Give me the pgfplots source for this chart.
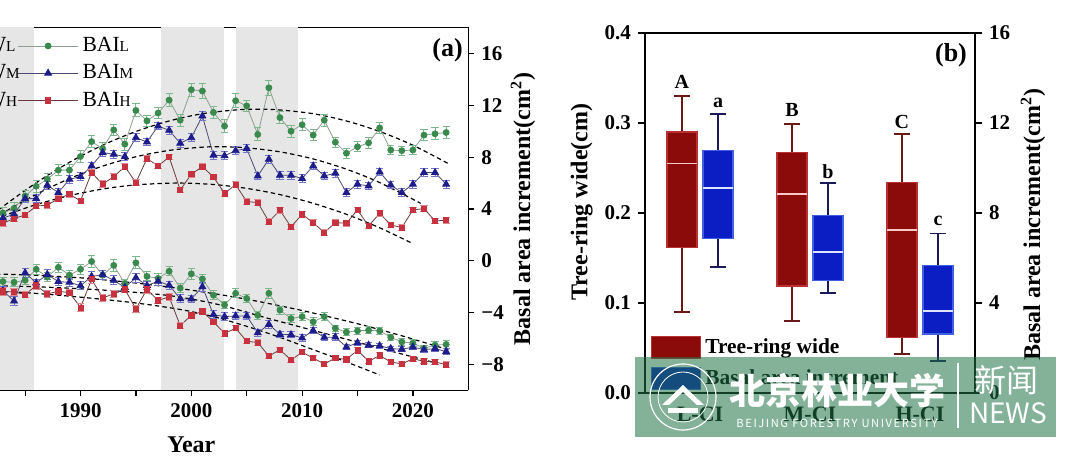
\documentclass[border=0pt]{standalone}
\usepackage{fontspec}
\setmainfont{Liberation Serif}
\newfontfamily\cjk{Noto Sans CJK SC}
\newfontfamily\cjkwide[LetterSpace=14]{Noto Sans CJK SC}
\usepackage{pgfplots}
\pgfplotsset{compat=1.18}
\usepackage{pgfplotstable}
\usepgfplotslibrary{statistics}

\definecolor{gL}{HTML}{3A8A4E}
\definecolor{gLe}{HTML}{7DB88C}
\definecolor{lineL}{HTML}{8AA090}
\definecolor{bM}{HTML}{1C1C8C}
\definecolor{bMe}{HTML}{7474C8}
\definecolor{lineM}{HTML}{4A4A70}
\definecolor{rH}{HTML}{C8323F}
\definecolor{rHe}{HTML}{E0888F}
\definecolor{lineH}{HTML}{6A3A3A}
\definecolor{band}{HTML}{E6E6E6}
\definecolor{redF}{HTML}{8B0B0B}
\definecolor{redE}{HTML}{B83030}
\definecolor{redW}{HTML}{6A1818}
\definecolor{redM}{HTML}{F6C8C8}
\definecolor{blueF}{HTML}{0A1EC4}
\definecolor{blueE}{HTML}{4060E0}
\definecolor{blueW}{HTML}{1A1A5A}
\definecolor{blueM}{HTML}{DDE3FF}
\definecolor{wm}{HTML}{1E7346}

\newcommand\tl{\bfseries\fontsize{10.5}{12}\selectfont}
\newcommand\lbl{\bfseries\fontsize{12}{14}\selectfont}
\newcommand\sub[1]{{\fontsize{7.6}{8}\selectfont #1}}

\pgfplotstableread{
x y e
1983 3.70 0.45
1984 4.05 0.45
1985 5.00 0.45
1986 5.75 0.45
1987 6.30 0.45
1988 7.00 0.45
1989 7.00 0.45
1990 8.05 0.45
1991 9.20 0.45
1992 8.65 0.45
1993 10.10 0.45
1994 9.00 0.45
1995 11.60 0.50
1996 10.80 0.45
1997 11.40 0.45
1998 12.40 0.50
1999 10.85 0.45
2000 13.20 0.50
2001 13.10 0.55
2002 11.45 0.45
2003 10.40 0.50
2004 12.35 0.55
2005 11.95 0.45
2006 9.75 0.50
2007 13.35 0.60
2008 11.05 0.45
2009 10.00 0.45
2010 10.50 0.45
2011 9.70 0.45
2012 10.85 0.45
2013 9.15 0.40
2014 8.30 0.40
2015 8.80 0.40
2016 9.10 0.40
2017 10.25 0.45
2018 8.55 0.35
2019 8.50 0.35
2020 8.55 0.35
2021 9.70 0.45
2022 9.80 0.45
2023 9.90 0.45
}\BAIL

\pgfplotstableread{
x y e
1983 3.30 0.30
1984 3.60 0.30
1985 4.80 0.30
1986 4.80 0.30
1987 5.83 0.30
1988 5.27 0.30
1989 6.29 0.30
1990 6.50 0.30
1991 7.32 0.30
1992 8.35 0.30
1993 8.22 0.30
1994 8.04 0.30
1995 9.50 0.30
1996 9.17 0.30
1997 10.40 0.30
1998 10.07 0.30
1999 9.07 0.30
2000 9.50 0.30
2001 11.17 0.35
2002 8.15 0.30
2003 8.10 0.30
2004 8.50 0.30
2005 8.66 0.30
2006 6.55 0.30
2007 7.84 0.30
2008 6.60 0.30
2009 6.60 0.30
2010 6.35 0.30
2011 7.32 0.30
2012 6.55 0.30
2013 6.76 0.30
2014 5.27 0.30
2015 5.91 0.30
2016 5.78 0.30
2017 6.86 0.30
2018 5.85 0.30
2019 5.27 0.30
2020 5.91 0.30
2021 6.81 0.30
2022 6.81 0.30
2023 5.91 0.30
}\BAIM

\pgfplotstableread{
x y e
1983 2.90 0.22
1984 3.26 0.22
1985 3.54 0.22
1986 4.23 0.22
1987 4.29 0.22
1988 4.80 0.22
1989 5.14 0.22
1990 4.62 0.22
1991 6.81 0.25
1992 5.91 0.25
1993 6.50 0.25
1994 7.27 0.25
1995 6.04 0.22
1996 7.89 0.25
1997 7.32 0.22
1998 8.01 0.22
1999 5.47 0.22
2000 6.68 0.25
2001 7.27 0.25
2002 6.47 0.22
2003 5.21 0.22
2004 5.88 0.22
2005 4.57 0.22
2006 4.50 0.22
2007 3.03 0.22
2008 3.90 0.22
2009 2.62 0.22
2010 3.59 0.22
2011 2.95 0.22
2012 2.18 0.22
2013 2.95 0.22
2014 2.90 0.22
2015 3.93 0.22
2016 2.69 0.22
2017 3.67 0.22
2018 2.77 0.22
2019 2.57 0.22
2020 3.93 0.22
2021 4.03 0.22
2022 3.08 0.22
2023 3.13 0.22
}\BAIH

\pgfplotstableread{
x y e
1983 -1.60 0.35
1984 -1.65 0.35
1985 -1.50 0.35
1986 -0.65 0.40
1987 -1.25 0.35
1988 -0.50 0.40
1989 -1.10 0.35
1990 -0.65 0.40
1991 -0.05 0.45
1992 -1.10 0.35
1993 -0.35 0.45
1994 -1.75 0.35
1995 -0.15 0.45
1996 -1.20 0.35
1997 -1.35 0.35
1998 -0.80 0.35
1999 -2.10 0.35
2000 -1.00 0.40
2001 -1.40 0.35
2002 -2.65 0.35
2003 -3.40 0.30
2004 -2.50 0.35
2005 -2.90 0.30
2006 -4.20 0.30
2007 -2.50 0.40
2008 -3.80 0.30
2009 -4.45 0.30
2010 -4.30 0.30
2011 -4.70 0.30
2012 -4.30 0.30
2013 -5.20 0.25
2014 -5.50 0.25
2015 -5.40 0.25
2016 -5.35 0.25
2017 -5.40 0.25
2018 -5.90 0.25
2019 -6.25 0.25
2020 -6.35 0.25
2021 -6.75 0.25
2022 -6.50 0.30
2023 -6.45 0.30
}\WL

\pgfplotstableread{
x y e
1983 -2.30 0.35
1984 -3.10 0.35
1985 -0.92 0.35
1986 -1.70 0.30
1987 -1.05 0.35
1988 -1.60 0.30
1989 -1.65 0.30
1990 -1.92 0.30
1991 -1.20 0.35
1992 -1.07 0.35
1993 -1.50 0.35
1994 -2.05 0.30
1995 -1.30 0.35
1996 -1.90 0.30
1997 -1.58 0.30
1998 -1.88 0.30
1999 -2.93 0.30
2000 -2.95 0.30
2001 -2.00 0.35
2002 -4.15 0.30
2003 -4.30 0.30
2004 -4.25 0.30
2005 -4.25 0.30
2006 -5.55 0.25
2007 -4.90 0.30
2008 -5.67 0.25
2009 -5.70 0.25
2010 -5.95 0.25
2011 -5.38 0.25
2012 -5.90 0.25
2013 -5.88 0.25
2014 -6.65 0.20
2015 -6.32 0.20
2016 -6.50 0.20
2017 -6.55 0.20
2018 -6.77 0.20
2019 -6.82 0.20
2020 -6.65 0.20
2021 -6.85 0.20
2022 -6.77 0.25
2023 -7.00 0.25
}\WM

\pgfplotstableread{
x y e
1983 -2.35 0.30
1984 -2.40 0.30
1985 -2.60 0.25
1986 -1.90 0.30
1987 -2.55 0.25
1988 -2.35 0.25
1989 -2.45 0.25
1990 -3.60 0.30
1991 -1.42 0.30
1992 -2.85 0.25
1993 -2.55 0.30
1994 -2.20 0.25
1995 -3.70 0.25
1996 -2.20 0.30
1997 -3.05 0.25
1998 -2.78 0.25
1999 -5.00 0.25
2000 -4.20 0.25
2001 -3.90 0.25
2002 -4.70 0.20
2003 -5.60 0.20
2004 -5.20 0.20
2005 -6.20 0.20
2006 -6.30 0.20
2007 -7.35 0.20
2008 -6.85 0.20
2009 -7.65 0.20
2010 -7.05 0.20
2011 -7.50 0.20
2012 -7.95 0.20
2013 -7.50 0.20
2014 -7.60 0.20
2015 -6.90 0.20
2016 -7.75 0.20
2017 -7.30 0.20
2018 -7.80 0.20
2019 -7.95 0.20
2020 -7.55 0.20
2021 -7.75 0.20
2022 -7.80 0.20
2023 -8.00 0.20
}\WH

\pgfplotsset{
  sL/.style={color=lineL, line width=0.4pt, mark=*, mark size=1.5pt, mark options={fill=gL, draw=gL, solid}},
  sM/.style={color=lineM, line width=0.4pt, mark=triangle*, mark size=2pt, mark options={fill=bM, draw=bM, solid}},
  sH/.style={color=lineH, line width=0.4pt, mark=square*, mark size=1.3pt, mark options={fill=rH, draw=rH, solid}},
  ebar/.style={error bars/.cd, y dir=both, y explicit,
     error bar style={#1, line width=0.5pt, solid},
     error mark options={rotate=90, #1, mark size=1.8pt, line width=0.5pt}},
  fit/.style={black, line width=0.6pt, dash pattern=on 2.2pt off 1.6pt, smooth, forget plot},
  redbox/.style={forget plot, boxplot/draw direction=y,
     boxplot/every box/.style={draw=redE, fill=redF, line width=0.6pt},
     boxplot/every whisker/.style={draw=redW, line width=0.8pt},
     boxplot/every median/.style={draw=redM, line width=0.9pt}},
  bluebox/.style={forget plot, boxplot/draw direction=y,
     boxplot/every box/.style={draw=blueE, fill=blueF, line width=0.6pt},
     boxplot/every whisker/.style={draw=blueW, line width=0.8pt},
     boxplot/every median/.style={draw=blueM, line width=0.9pt}},
}

\begin{document}
\begin{tikzpicture}
\begin{scope}
\clip (0pt,0pt) rectangle (541.5pt,230.5pt);

% ---------------- panel (a) ----------------
\begin{axis}[
  at={(234.15pt,216.75pt)}, anchor=north east,
  scale only axis, width=277pt, height=181.5pt,
  xmin=1975, xmax=2025, ymin=-10, ymax=18,
  axis y line*=right,
  axis line style={line width=0.6pt},
  xtick={1990,2000,2010,2020}, xticklabels={1990,2000,2010,2020},
  minor xtick={1985,1995,2005,2015},
  ytick={-8,-4,0,4,8,12,16}, yticklabels={−8,−4,0,4,8,12,16},
  xtick pos=left, ytick pos=right,
  tick align=outside, major tick length=3pt, minor tick length=3pt,
  tick style={line width=0.6pt, black},
  ticklabel style={font=\tl},
  xlabel={Year}, ylabel={Basal area increment(cm\textsuperscript{2})},
  label style={font=\lbl},
  xlabel style={at={(axis description cs:0.5,-0.149)}, anchor=center},
  ylabel style={at={(axis description cs:1.0987,0.5)}, anchor=center},
  legend columns=2,
  legend cell align=left,
  legend style={draw=none, fill=none, at={(axis description cs:0.4031,0.985)},
    anchor=north east, font=\fontsize{10.8}{12}\selectfont, inner sep=0pt,
    row sep=1pt, /tikz/every even column/.append style={column sep=-3pt}},
  legend image code/.code={\draw[mark repeat=2,mark phase=2,#1] plot coordinates {(0pt,0pt) (15pt,0pt) (30pt,0pt)};},
]
\addlegendimage{sL}\addlegendentry{W\sub{L}}
\addlegendimage{sL}\addlegendentry{BAI\sub{L}}
\addlegendimage{sM}\addlegendentry{W\sub{M}}
\addlegendimage{sM}\addlegendentry{BAI\sub{M}}
\addlegendimage{sH}\addlegendentry{W\sub{H}}
\addlegendimage{sH}\addlegendentry{BAI\sub{H}}

\addplot[fill=band, draw=none, forget plot] coordinates {(1975,-10) (1985.8,-10) (1985.8,18) (1975,18)} -- cycle;
\addplot[fill=band, draw=none, forget plot] coordinates {(1997.25,-10) (2002.95,-10) (2002.95,18) (1997.25,18)} -- cycle;
\addplot[fill=band, draw=none, forget plot] coordinates {(2004.0,-10) (2009.65,-10) (2009.65,18) (2004.0,18)} -- cycle;

% fitted curves (BAI)
\addplot[fit] coordinates {(1981,2.8) (1983,4.19) (1986,6.02) (1989,7.6) (1992,8.92) (1995,9.98) (1998,10.79) (2001,11.35) (2004,11.64) (2006,11.7) (2008,11.64) (2011,11.35) (2014,10.79) (2017,9.98) (2020,8.92) (2023.2,7.5)};
\addplot[fit] coordinates {(1981,2.59) (1983,3.69) (1986,5.13) (1989,6.34) (1992,7.31) (1995,8.03) (1998,8.52) (2001,8.77) (2003,8.8) (2005,8.72) (2008,8.41) (2011,7.86) (2014,7.07) (2017,6.04) (2020.7,4.44)};
\addplot[fit] coordinates {(1981,2.78) (1983,3.46) (1986,4.34) (1989,5.03) (1992,5.54) (1995,5.86) (1998.7,6.0) (2002,5.89) (2005,5.59) (2008,5.11) (2011,4.44) (2014,3.59) (2017,2.55) (2020,1.33)};
% fitted curves (W)
\addplot[fit] coordinates {(1981,-1.0) (1985,-1.08) (1990,-1.31) (1995,-1.71) (2000,-2.26) (2005,-2.96) (2010,-3.83) (2015,-4.85) (2019,-5.78) (2023.2,-6.86)};
\addplot[fit] coordinates {(1981,-1.9) (1986,-2.0) (1991,-2.2) (1996,-2.5) (1999,-2.8) (2002.6,-3.4) (2007,-4.45) (2011.6,-5.5) (2016,-6.5) (2020.6,-7.55) (2022,-7.85)};
\addplot[fit] coordinates {(1981,-2.3) (1985,-2.45) (1990,-2.8) (1995,-3.25) (1999,-3.75) (2002,-4.3) (2005,-5.05) (2008,-5.9) (2011,-6.85) (2014,-7.8) (2017,-8.8)};

\addplot[sL, forget plot, ebar=gLe] table[x=x, y=y, y error=e] {\WL};
\addplot[sM, forget plot, ebar=bMe] table[x=x, y=y, y error=e] {\WM};
\addplot[sH, forget plot, ebar=rHe] table[x=x, y=y, y error=e] {\WH};
\addplot[sL, forget plot, ebar=gLe] table[x=x, y=y, y error=e] {\BAIL};
\addplot[sM, forget plot, ebar=bMe] table[x=x, y=y, y error=e] {\BAIM};
\addplot[sH, forget plot, ebar=rHe] table[x=x, y=y, y error=e] {\BAIH};
\end{axis}
\node[font=\bfseries\fontsize{13}{14}\selectfont] at (223.75pt,205.5pt) {(a)};

% ---------------- panel (b) ----------------
\begin{axis}[
  at={(322.5pt,34pt)}, anchor=south west,
  scale only axis, width=165pt, height=180pt,
  xmin=0.5, xmax=3.5, ymin=0, ymax=0.4,
  axis y line*=left,
  axis line style={line width=0.6pt},
  xtick={1,2,3}, xticklabels={L-CI,M-CI,H-CI},
  major x tick style={draw=none},
  ytick={0,0.1,0.2,0.3,0.4}, yticklabels={0.0,0.1,0.2,0.3,0.4},
  ytick pos=left, tick align=outside, major tick length=3.5pt,
  tick style={line width=0.6pt, black},
  ticklabel style={font=\tl},
  xticklabel style={font=\bfseries\fontsize{11}{12}\selectfont},
  ylabel={Tree-ring wide(cm)},
  ylabel style={font=\lbl, at={(axis description cs:-0.1918,0.53)}, anchor=center},
  legend cell align=left,
  legend style={draw=none, fill=none, at={(axis description cs:0.018,0.164)}, anchor=north west,
    font=\bfseries\fontsize{10.7}{12}\selectfont, inner sep=0pt, row sep=2.5pt},
  legend image code/.code={\draw[#1] (0pt,-5.5pt) rectangle (24.5pt,5.5pt);},
]
\addlegendimage{draw=redE, fill=redF, line width=0.5pt}
\addlegendentry{Tree-ring wide}
\addlegendimage{draw=blueE, fill=blueF, line width=0.5pt}
\addlegendentry{Basal area increment}

\addplot[redbox, boxplot prepared={draw position=0.836, lower whisker=0.0897, lower quartile=0.162, median=0.255, upper quartile=0.290, upper whisker=0.330, box extend=0.273, whisker extend=0.15}] coordinates {};
\addplot[redbox, boxplot prepared={draw position=1.836, lower whisker=0.080, lower quartile=0.119, median=0.2215, upper quartile=0.267, upper whisker=0.299, box extend=0.273, whisker extend=0.15}] coordinates {};
\addplot[redbox, boxplot prepared={draw position=2.836, lower whisker=0.0433, lower quartile=0.0615, median=0.181, upper quartile=0.234, upper whisker=0.288, box extend=0.273, whisker extend=0.15}] coordinates {};

\node[font=\bfseries\fontsize{10}{11}\selectfont] at (axis cs:0.836,0.346) {A};
\node[font=\bfseries\fontsize{10}{11}\selectfont] at (axis cs:1.164,0.322) {a};
\node[font=\bfseries\fontsize{10}{11}\selectfont] at (axis cs:1.836,0.314) {B};
\node[font=\bfseries\fontsize{10}{11}\selectfont] at (axis cs:2.164,0.2456) {b};
\node[font=\bfseries\fontsize{10}{11}\selectfont] at (axis cs:2.836,0.301) {C};
\node[font=\bfseries\fontsize{10}{11}\selectfont] at (axis cs:3.164,0.191) {c};
\end{axis}

\begin{axis}[
  at={(322.5pt,34pt)}, anchor=south west,
  scale only axis, width=165pt, height=180pt,
  xmin=0.5, xmax=3.5, ymin=0, ymax=16,
  axis y line*=right, axis x line=none,
  axis line style={line width=0.6pt},
  ytick={0,4,8,12,16}, yticklabels={0,4,8,12,16},
  ytick pos=right, tick align=outside, major tick length=3.5pt,
  tick style={line width=0.6pt, black},
  ticklabel style={font=\tl},
  ylabel={Basal area increment(cm\textsuperscript{2})},
  ylabel style={font=\lbl, at={(axis description cs:1.1758,0.467)}, anchor=center},
]
\addplot[bluebox, boxplot prepared={draw position=1.164, lower whisker=5.6, lower quartile=6.86, median=9.12, upper quartile=10.76, upper whisker=12.4, box extend=0.273, whisker extend=0.15}] coordinates {};
\addplot[bluebox, boxplot prepared={draw position=2.164, lower whisker=4.44, lower quartile=5.0, median=6.28, upper quartile=7.88, upper whisker=9.32, box extend=0.273, whisker extend=0.15}] coordinates {};
\addplot[bluebox, boxplot prepared={draw position=3.164, lower whisker=1.42, lower quartile=2.62, median=3.66, upper quartile=5.66, upper whisker=7.08, box extend=0.273, whisker extend=0.15}] coordinates {};
\end{axis}
\node[font=\bfseries\fontsize{13}{14}\selectfont] at (475.5pt,203pt) {(b)};

% ---------------- watermark overlay ----------------
\fill[wm, opacity=0.55] (317.5pt,12pt) rectangle (528pt,52pt);
\draw[white, line width=0.6pt] (341.5pt,32pt) circle (16.5pt);
\draw[white, line width=0.4pt] (341.5pt,32pt) circle (12.5pt);
\fill[white] (331pt,28pt) -- (341.5pt,38pt) -- (352pt,28pt) -- (348.5pt,28pt) -- (341.5pt,34.5pt) -- (334.5pt,28pt) -- cycle;
\fill[white] (334pt,24pt) rectangle (349pt,26.5pt);
\node[white, font=\cjk\bfseries\fontsize{18}{18}\selectfont] at (418.5pt,35pt) {北京林业大学};
\node[white, font=\cjkwide\fontsize{5.6}{6}\selectfont] at (418.5pt,19pt) {BEIJING FORESTRY UNIVERSITY};
\draw[white, line width=0.6pt] (479pt,16.5pt) -- (479pt,49pt);
\node[white, font=\cjk\fontsize{16}{16}\selectfont] at (503pt,40.5pt) {新闻};
\node[white, font=\cjk\fontsize{14}{14}\selectfont] at (504pt,24pt) {NEWS};
\end{scope}
\pgfresetboundingbox
\path[use as bounding box] (0pt,0pt) rectangle (541.5pt,230.5pt);
\end{tikzpicture}
\end{document}
